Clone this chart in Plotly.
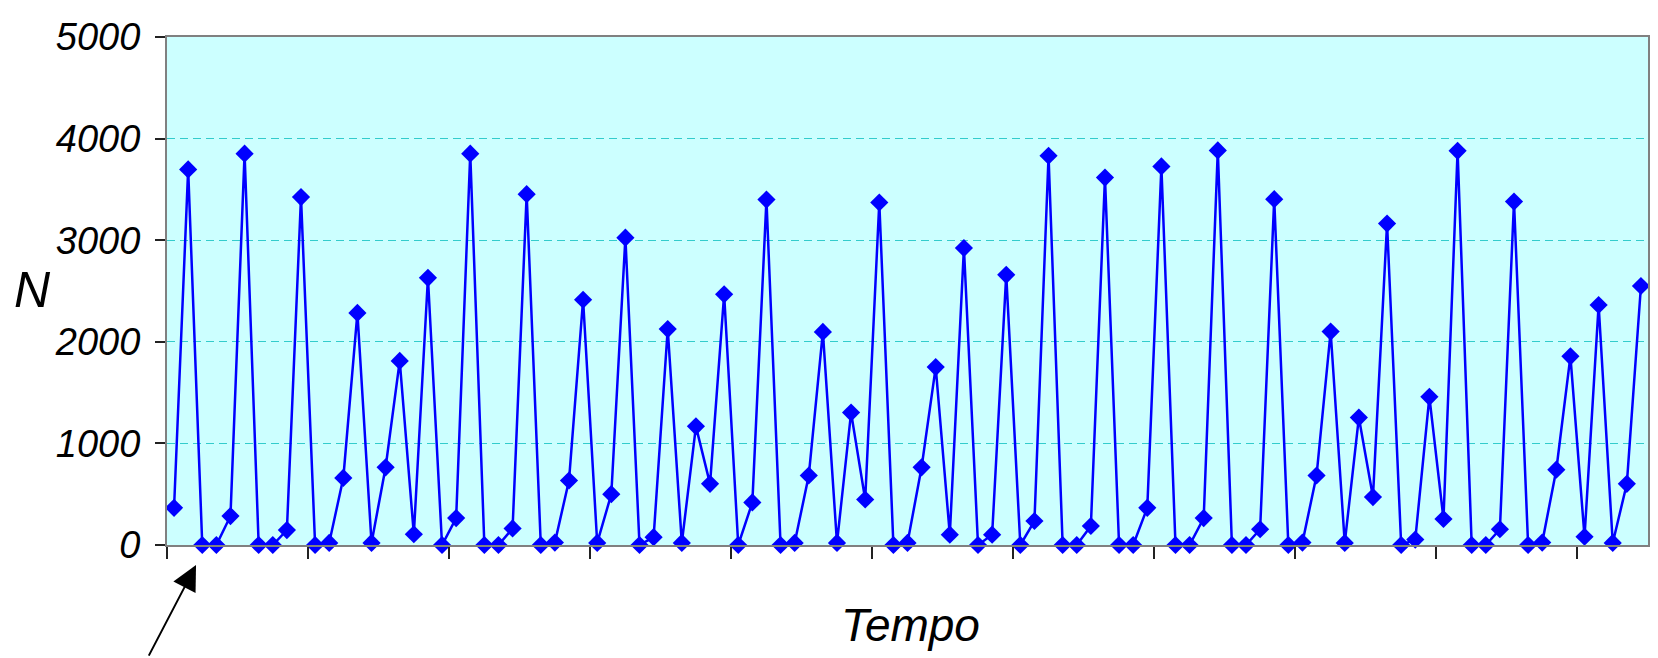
import plotly.graph_objects as go

# Tempo index (category positions) and N values
tempo = list(range(1, 106))
n_values = [
    366, 3697, 0, 0, 285, 3852, 0, 0, 147, 3424,
    0, 20, 660, 2284, 20, 765, 1812, 106, 2630, 0,
    265, 3852, 0, 0, 163, 3453, 0, 24, 635, 2414,
    20, 500, 3025, 0, 77, 2125, 20, 1168, 602, 2467,
    0, 419, 3400, 0, 20, 684, 2097, 20, 1303, 448,
    3371, 0, 20, 765, 1751, 102, 2923, 0, 102, 2659,
    0, 236, 3831, 0, 0, 187, 3616, 0, 0, 366,
    3726, 0, 0, 265, 3884, 0, 0, 155, 3404, 0,
    24, 684, 2101, 20, 1254, 472, 3164, 0, 53, 1458,
    256, 3880, 0, 0, 155, 3380, 0, 24, 741, 1857,
    81, 2362, 20, 602, 2549,
]
y_ticks = [0, 1000, 2000, 3000, 4000, 5000]
x_tick_positions = [0.5 + 10 * k for k in range(11)]

font_family = "Liberation Sans, Arial, sans-serif"

fig = go.Figure()
fig.add_trace(go.Scatter(
    x=tempo, y=n_values, mode="lines+markers",
    line=dict(color="#0000FF", width=2.5),
    marker=dict(symbol="diamond", size=14, color="#0000FF"),
    cliponaxis=False, showlegend=False,
))

# the page body adds an 8px offset, so the figure is 8px smaller and margins compensate
fig.update_layout(
    width=1650, height=650,
    margin=dict(l=159, r=8, t=22, b=113),
    paper_bgcolor="white", plot_bgcolor="#CCFFFF",
    xaxis=dict(
        range=[0.5, 105.5], tickmode="array", tickvals=x_tick_positions,
        showticklabels=False, ticks="outside", ticklen=12, tickwidth=1.5,
        tickcolor="#222222", showgrid=False, zeroline=False,
        showline=True, linecolor="#808080", linewidth=2, mirror=True,
    ),
    yaxis=dict(
        range=[0, 5000], tickmode="array", tickvals=y_ticks,
        ticktext=[str(v) for v in y_ticks],
        ticks="outside", ticklen=10, tickwidth=1.5, tickcolor="#222222",
        tickfont=dict(family=font_family, size=38, style="italic", color="black"),
        ticklabelstandoff=7,
        showgrid=True, gridcolor="#33CCCC", gridwidth=1, griddash="8px,5px",
        zeroline=False,
        showline=True, linecolor="#808080", linewidth=2, mirror=True,
    ),
    annotations=[
        dict(text="N", xref="paper", yref="paper", x=-0.091, y=0.502,
             xanchor="center", yanchor="middle", showarrow=False,
             font=dict(family=font_family, size=50, style="italic", color="black")),
        dict(text="Tempo", xref="paper", yref="paper", x=0.5017, y=-0.158,
             xanchor="center", yanchor="middle", showarrow=False,
             font=dict(family=font_family, size=46, style="italic", color="black")),
        dict(text="", xref="paper", yref="paper", x=0.0196, y=-0.0396,
             showarrow=True, ax=-48, ay=92, axref="pixel", ayref="pixel",
             arrowhead=2, arrowsize=2.5, arrowwidth=2, arrowcolor="black"),
    ],
)

fig.write_html("out.html")
